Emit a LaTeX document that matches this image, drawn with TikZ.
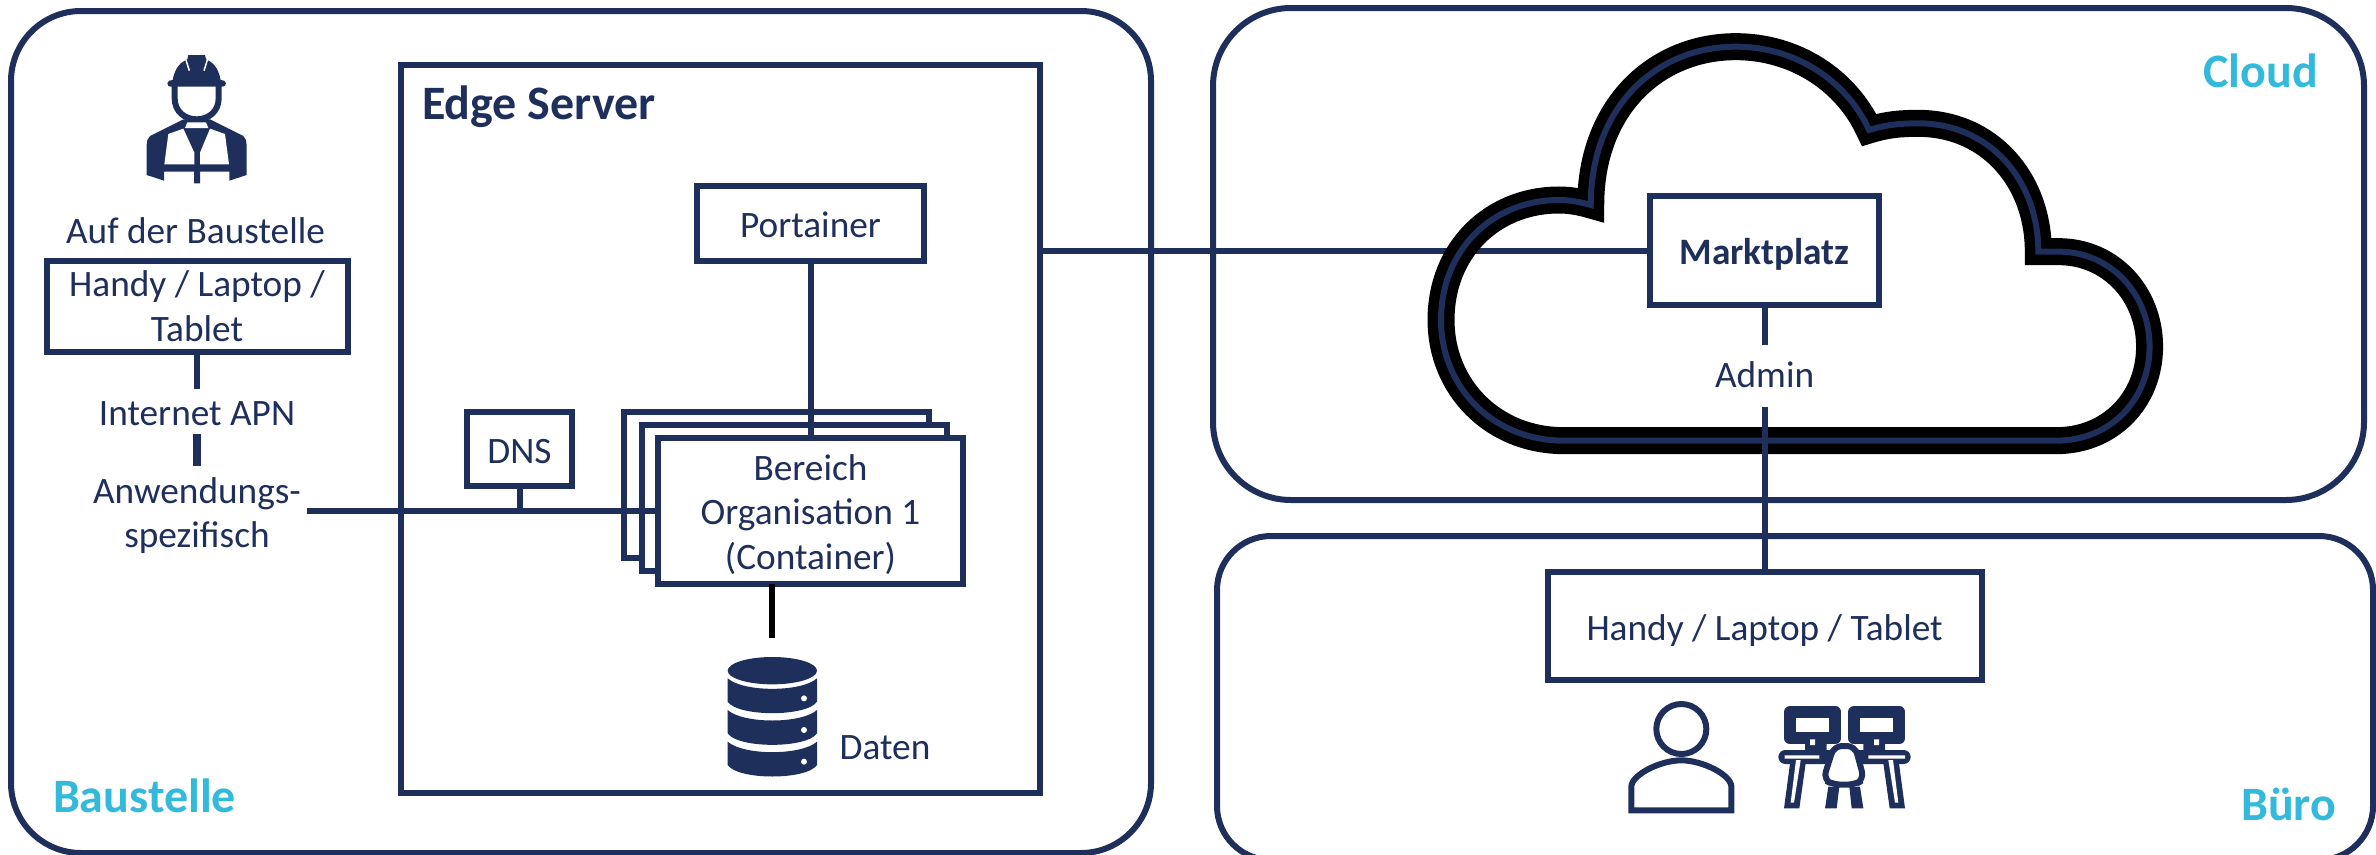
\documentclass[tikz,border=0pt]{standalone}
\usepackage{fontspec}
\setmainfont{Carlito}
\definecolor{navy}{HTML}{1F2F5C}
\definecolor{sky}{HTML}{33B9DB}
\begin{document}
\begin{tikzpicture}[x=1pt,y=-1pt,
  every node/.style={font=\fontsize{37.3}{44.7}\selectfont,text=navy,inner sep=0pt,outer sep=0pt},
  panel/.style={draw=navy,line width=6pt},
  box/.style={draw=navy,line width=6pt,fill=white,align=center},
  orgbox/.style={box,minimum width=305pt,minimum height=146pt},
  single/.style={text height=28.5pt,text depth=0pt},
  wire/.style={draw=navy,line width=6pt},
  heading/.style={font=\fontsize{48}{56}\selectfont\bfseries},
  area/.style={font=\fontsize{48}{56}\selectfont\bfseries,text=sky},
  solid icon/.style={fill=navy,draw=none}]
  \useasboundingbox (0,0) rectangle (2376,854);

  \node[panel,rounded corners=70pt,minimum width=1140pt,minimum height=842pt] (baustelle) at (581,432) {};
  \node[panel,rounded corners=78pt,minimum width=1151pt,minimum height=492pt] (cloud) at (1788.5,254) {};
  \node[panel,rounded corners=54pt,minimum width=1156pt,minimum height=324pt] (buero) at (1795,698) {};
  \node[panel,minimum width=639pt,minimum height=728pt] (edge) at (720.5,428.5) {};

  \node[area,anchor=base west] (baustelletext) at (53,812.5) {Baustelle};
  \node[area,anchor=base east] (cloudtext) at (2318,87.5) {Cloud};
  \node[area,anchor=base east] (buerotext) at (2336,820) {Büro};
  \node[heading,anchor=base west] (edgetext) at (422,119.5) {Edge Server};

  \node[anchor=base] (onsite) at (195.5,243.5) {Auf der Baustelle};
  \node[box,minimum width=301pt,minimum height=91pt] (device) at (197,306) {Handy / Laptop /\\Tablet};
  \node[text height=36pt,text depth=9pt] (apn) at (197,411.5) {Internet APN};
  \node[align=center,inner ysep=11pt,inner xsep=6pt] (app) at (197,515.5) {Anwendungs-\\spezifisch};
  \draw[wire] (device.south) -- (apn.north);
  \draw[wire,line width=8pt] (apn.south) -- (app.north);

  \node[box,single,minimum width=227pt,minimum height=75pt] (portainer) at (810.5,223.5) {Portainer};
  \node[box,single,minimum width=105pt,minimum height=74pt] (dns) at (519.5,449) {DNS};
  \node[orgbox] (orgc) at (776.2,485) {};
  \node[orgbox] (orgb) at (794,498.3) {};
  \node[orgbox,text height=117pt,text depth=0pt] (orga) at (810.5,511) {Bereich\\Organisation 1\\(Container)};
  \coordinate (dbtop) at (772.3,637.7);
  \draw[wire] (portainer.south) -- (orga.north);
  \draw[wire] (orga.west -| app.east) -- (orga.west);
  \draw[wire] (dns.south) -- (dns.south |- orga.west);
  \draw[line width=6pt,black] (orga.south -| dbtop) -- (dbtop);
  \node[anchor=base] (daten) at (885,759) {Daten};

  \begin{scope}[shift={(600,380)},scale=1/3]
    \path[solid icon] (517,872) ellipse [x radius=134pt,y radius=41pt];
    \foreach \top/\bot in {895/965,990/1060,1085/1155} {
      \path[solid icon] (383,\top) .. controls (430,{\top+42}) and (604,{\top+42}) .. (651,\top)
        -- (651,\bot) .. controls (620,{\bot+46}) and (414,{\bot+46}) .. (383,\bot) -- cycle;
    }
    \foreach \dot in {955,1050,1145} {
      \fill[white] (612,\dot) circle (9pt);
    }
  \end{scope}

  \draw[wire] (edge.east |- 0,250.5) -- (1650,250.5);
  \begin{scope}[shift={(1400,30)},xscale=1/1.95,yscale=1/3]
    \foreach \col/\wid in {black/27pt,navy/6pt} {
      \draw[draw=\col,line width=\wid] (372,525) .. controls (372,230) and (500,50) .. (655,50)
        .. controls (770,50) and (870,150) .. (915,300)
        .. controls (950,283) and (980,280) .. (1010,280)
        .. controls (1150,280) and (1245,450) .. (1245,665)
        -- (1285,665) .. controls (1385,665) and (1462,790) .. (1462,950)
        .. controls (1462,1110) and (1385,1232) .. (1280,1232)
        -- (320,1232) .. controls (180,1232) and (80,1070) .. (80,870)
        .. controls (80,660) and (180,510) .. (310,510)
        .. controls (330,510) and (350,515) .. (372,525) -- cycle;
    }
  \end{scope}

  \node[box,single,minimum width=229pt,minimum height=109pt] (market) at (1764.6,250.5) {\bfseries Marktplatz};
  \node[text height=43pt,text depth=19pt] (admin) at (1764.6,375.85) {Admin};
  \node[box,single,minimum width=434pt,minimum height=108pt] (office) at (1764.6,626) {Handy / Laptop / Tablet};
  \draw[wire] (market.south) -- (admin.north);
  \draw[wire] (admin.south) -- (office.north);

  \begin{scope}[shift={(100,30)},scale=1/3]
    \path[solid icon] (202,160) to[out=90,in=180] (218,150) .. controls (225,110) and (245,95) .. (262,88)
      -- (265,75) -- (315,75) -- (318,88) .. controls (335,95) and (355,110) .. (362,150)
      to[out=0,in=90] (378,160) to[out=-90,in=0] (368,170) -- (212,170) to[out=180,in=-90] (202,160) -- cycle;
    \draw[white,line width=1.5pt] (258,90) -- (268,122) (322,90) -- (312,122);
    \draw[navy,line width=6pt] (224,168) -- (224,205) .. controls (224,245) and (255,268) .. (290,268)
      .. controls (325,268) and (356,245) .. (356,205) -- (356,168);
    \path[solid icon] (250,268) -- (150,318) .. controls (142,325) and (140,335) .. (140,345) -- (140,435)
      -- (192,452) -- (192,425) -- (282,425) -- (282,460) -- (300,460) -- (300,425) -- (388,425) -- (388,452)
      -- (440,435) -- (440,345) .. controls (440,335) and (438,325) .. (430,318) -- (330,268) -- cycle;
    \fill[white] (262,277) -- (318,277) -- (325,294) -- (255,294) -- cycle;
    \fill[white] (205,312) -- (250,296) -- (283,368) -- (283,403) -- (193,403) -- cycle;
    \fill[white] (375,312) -- (330,296) -- (300,368) -- (300,403) -- (387,403) -- cycle;
  \end{scope}

  \begin{scope}[shift={(1560,680)},scale=1/3]
    \draw[navy,line width=6pt] (364,147) circle (75pt);
    \draw[navy,line width=6pt] (214,391) -- (214,320) .. controls (214,285) and (300,241) .. (364,241)
      .. controls (428,241) and (514,285) .. (514,320) -- (514,391) -- cycle;
    \draw[navy,line width=12pt,line join=round,fill=white] (690,96) rectangle (826,175);
    \draw[navy,line width=12pt,line join=round,fill=white] (882,96) rectangle (1018,175);
    \fill[navy] (735,175) rectangle (800,215) (910,175) rectangle (975,215);
    \fill[white] (750,178) rectangle (765,195) (942,178) rectangle (957,195);
    \fill[navy,rounded corners=7pt] (655,210) rectangle (1052,252);
    \fill[white] (674,226) rectangle (778,236) (925,226) rectangle (1035,236);
    \path[solid icon] (690,250) -- (672,385) -- (718,385) -- (737,250) -- cycle;
    \fill[white] (708,240) -- (692,368) -- (702,368) -- (722,240) -- cycle;
    \path[solid icon] (1017,250) -- (1035,385) -- (989,385) -- (970,250) -- cycle;
    \fill[white] (999,240) -- (1015,368) -- (1005,368) -- (985,240) -- cycle;
    \path[solid icon] (805,320) -- (795,385) -- (830,385) -- (838,320) -- cycle;
    \path[solid icon] (868,320) -- (875,385) -- (910,385) -- (900,320) -- cycle;
    \draw[navy,line width=6pt,fill=white,rounded corners=8pt] (822,198) -- (885,198) -- (912,298) -- (885,314) -- (820,314) -- (790,298) -- cycle;
  \end{scope}
\end{tikzpicture}
\end{document}
